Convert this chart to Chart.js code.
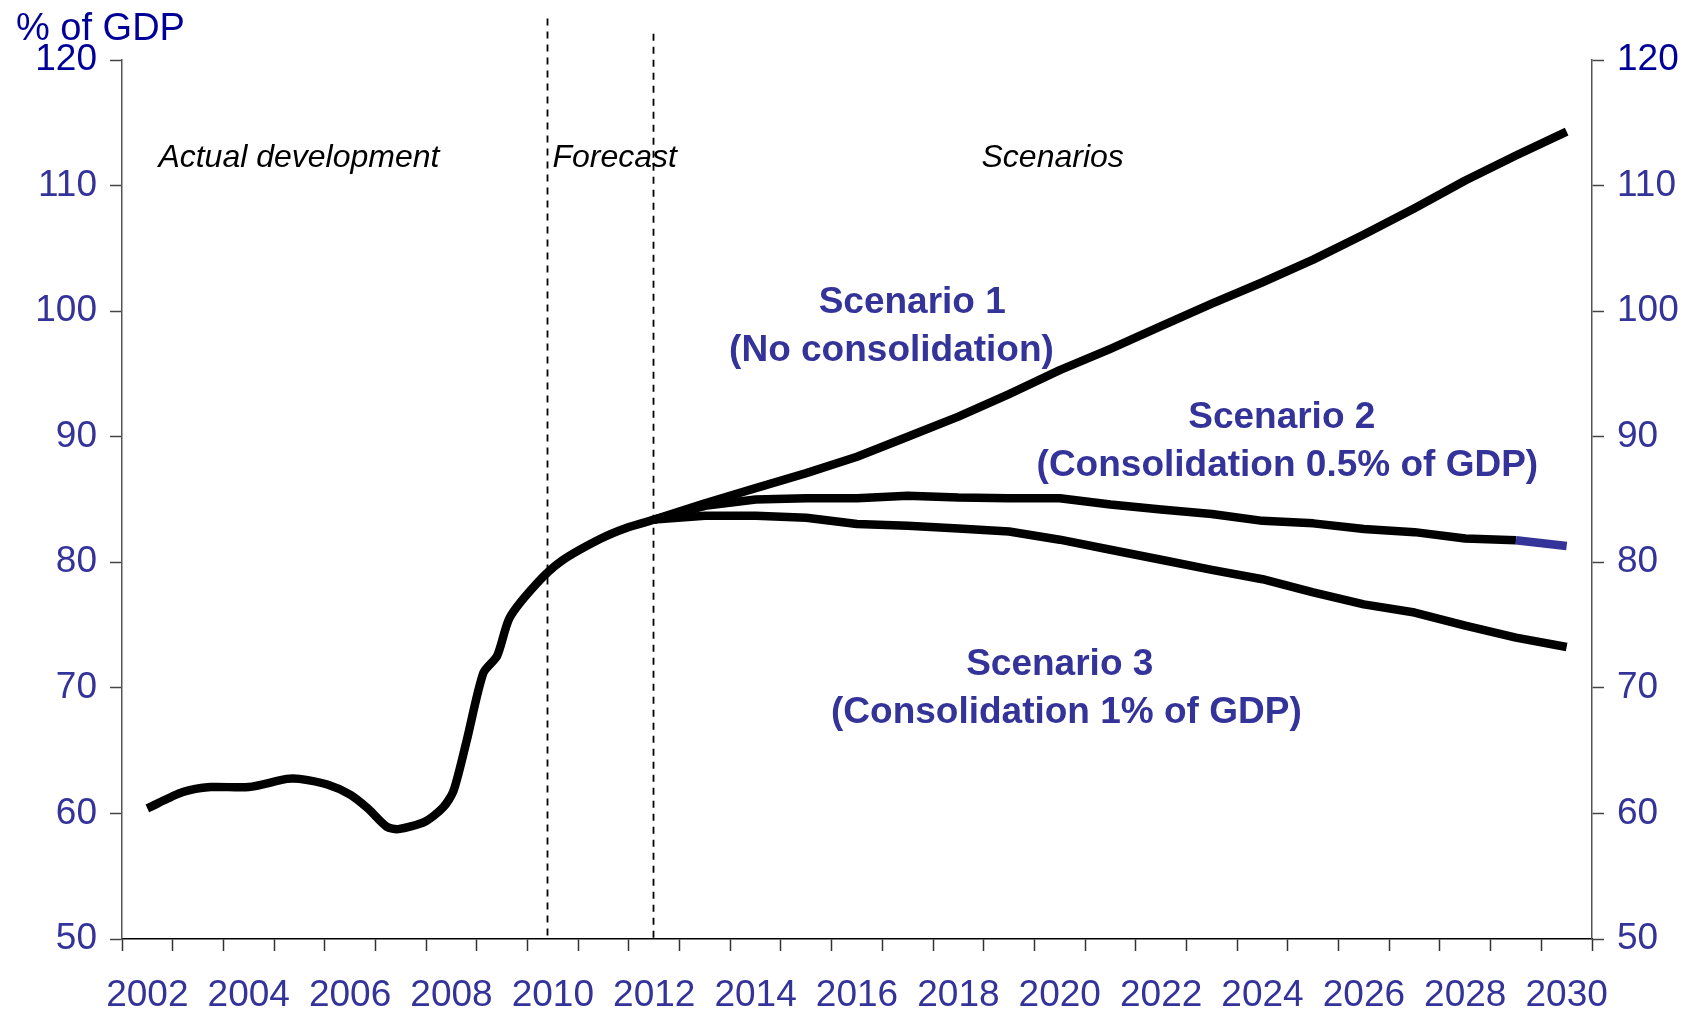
<!DOCTYPE html>
<html lang="en">

<head>
    <meta charset="UTF-8">
    <title>Public debt scenarios</title>
    <script src="https://cdn.jsdelivr.net/npm/chart.js@4.4.1/dist/chart.umd.min.js"></script>
    <style>
        html, body { margin: 0; padding: 0; background: #fff; }
        #wrap { width: 1688px; height: 1011px; }
    </style>
</head>

<body>
    <div id="wrap">
        <canvas id="debtChart" width="1688" height="1011"></canvas>
    </div>

    <script>
        // actual development + forecast (sub-annual points)
        const historyYears = [2002.0, 2002.7, 2003.25, 2004.0, 2004.75, 2005.0, 2005.55, 2006.0, 2006.35, 2006.72,
            2006.95, 2007.48, 2007.84, 2008.04, 2008.3, 2008.63, 2008.9, 2009.15, 2009.68, 2010.17, 2010.93, 2011.46, 2012.0];
        const historyDebt = [60.4, 61.7, 62.1, 62.1, 62.75, 62.75, 62.3, 61.5, 60.4, 58.95,
            58.75, 59.35, 60.5, 61.8, 65.8, 71.2, 72.55, 75.6, 78.3, 80.1, 81.85, 82.75, 83.4];

        // scenarios, annual
        const scenarioYears = [2012, 2013, 2014, 2015, 2016, 2017, 2018, 2019, 2020, 2021,
            2022, 2023, 2024, 2025, 2026, 2027, 2028, 2029, 2030];
        const scenario1 = [83.4, 84.7, 85.9, 87.1, 88.4, 90.0, 91.6, 93.4, 95.3, 97.0,
            98.8, 100.6, 102.3, 104.1, 106.1, 108.2, 110.4, 112.4, 114.3];
        const scenario2 = [83.4, 84.5, 85.0, 85.1, 85.1, 85.3, 85.15, 85.1, 85.1, 84.6,
            84.2, 83.85, 83.3, 83.1, 82.65, 82.4, 81.9, 81.75, 81.3];
        const scenario3 = [83.4, 83.7, 83.7, 83.55, 83.05, 82.9, 82.7, 82.45, 81.8, 81.0,
            80.2, 79.4, 78.65, 77.6, 76.65, 76.0, 74.95, 74.0, 73.25];

        const yearLabels = [2002, 2004, 2006, 2008, 2010, 2012, 2014, 2016, 2018, 2020, 2022, 2024, 2026, 2028, 2030];
        const valueTicks = [50, 60, 70, 80, 90, 100, 110, 120];
        const dividers = [2009.89, 2011.97];
        const dividerTops = [123.3, 122.1];

        const navy = '#333399';
        const font = '"Liberation Sans", Arial, sans-serif';

        const toPoints = (xs, ys) => xs.map((x, i) => ({ x: x, y: ys[i] }));

        // boundary ticks between years, labels in the middle (like a category axis)
        function yearTicks(scale) {
            const ticks = [];
            for (let v = 2001.5; v <= 2030.5; v += 0.5) ticks.push({ value: v });
            scale.ticks = ticks;
        }

        const notes = [
            { text: 'Actual development', x: 2004.99, y: 112.2, font: 'italic 32px ' + font, color: '#000' },
            { text: 'Forecast', x: 2011.22, y: 112.2, font: 'italic 32px ' + font, color: '#000' },
            { text: 'Scenarios', x: 2019.86, y: 112.2, font: 'italic 32px ' + font, color: '#000' },
            { text: 'Scenario 1', x: 2017.09, y: 100.65, font: 'bold 37px ' + font, color: navy },
            { text: '(No consolidation)', x: 2016.68, y: 96.85, font: 'bold 37px ' + font, color: navy },
            { text: 'Scenario 2', x: 2024.38, y: 91.5, font: 'bold 37px ' + font, color: navy },
            { text: '(Consolidation 0.5% of GDP)', x: 2024.49, y: 87.65, font: 'bold 37px ' + font, color: navy },
            { text: 'Scenario 3', x: 2020.0, y: 71.85, font: 'bold 37px ' + font, color: navy },
            { text: '(Consolidation 1% of GDP)', x: 2020.13, y: 68.0, font: 'bold 37px ' + font, color: navy }
        ];

        const decorations = {
            id: 'decorations',
            beforeDatasetsDraw(chart) {
                const { ctx, scales: { x, y } } = chart;
                ctx.save();
                ctx.strokeStyle = '#000';
                ctx.lineWidth = 1.8;
                ctx.setLineDash([7, 6]);
                dividers.forEach((d, i) => {
                    const px = Math.round(x.getPixelForValue(d)) + 0.5;
                    ctx.beginPath();
                    ctx.moveTo(px, y.getPixelForValue(dividerTops[i]));
                    ctx.lineTo(px, y.getPixelForValue(50));
                    ctx.stroke();
                });
                ctx.restore();
            },
            afterDraw(chart) {
                const { ctx, chartArea, scales: { x, y } } = chart;
                ctx.save();
                ctx.textAlign = 'center';
                ctx.textBaseline = 'middle';
                notes.forEach(n => {
                    ctx.font = n.font;
                    ctx.fillStyle = n.color;
                    ctx.fillText(n.text, x.getPixelForValue(n.x), y.getPixelForValue(n.y));
                });
                // unit label above the left axis
                ctx.textAlign = 'left';
                ctx.textBaseline = 'alphabetic';
                ctx.font = '38px ' + font;
                ctx.fillStyle = '#000099';
                ctx.fillText('% of GDP', chartArea.left - 106, chartArea.top - 20);
                ctx.restore();
            }
        };

        const lineStyle = {
            borderColor: '#000',
            borderWidth: 8.5,
            pointRadius: 0,
            borderJoinStyle: 'round',
            fill: false
        };

        const yAxis = (position, width) => ({
            type: 'linear',
            position: position,
            min: 50,
            max: 120,
            afterBuildTicks: s => { s.ticks = valueTicks.map(v => ({ value: v })); },
            afterFit: s => { s.width = width; },
            border: { display: true, color: '#555', width: 1.5 },
            grid: { drawOnChartArea: false, tickLength: 12, tickColor: '#444', tickWidth: 1.5 },
            ticks: {
                padding: 13,
                font: { family: font, size: 37 },
                color: c => c.tick.value === 120 ? '#000099' : navy
            }
        });

        const config = {
            type: 'line',
            data: {
                datasets: [
                    { ...lineStyle, label: 'Actual', data: toPoints(historyYears, historyDebt), tension: 0.25 },
                    { ...lineStyle, label: 'Scenario 1', data: toPoints(scenarioYears, scenario1), tension: 0 },
                    {
                        ...lineStyle, label: 'Scenario 2', data: toPoints(scenarioYears, scenario2), tension: 0,
                        segment: { borderColor: c => c.p1DataIndex === scenarioYears.length - 1 ? navy : '#000' }
                    },
                    { ...lineStyle, label: 'Scenario 3', data: toPoints(scenarioYears, scenario3), tension: 0 }
                ]
            },
            options: {
                responsive: false,
                animation: false,
                layout: { padding: { top: 60, left: 0, right: 0, bottom: 0 } },
                plugins: { legend: { display: false }, tooltip: { enabled: false } },
                scales: {
                    x: {
                        type: 'linear',
                        min: 2001.5,
                        max: 2030.5,
                        afterBuildTicks: yearTicks,
                        afterFit: s => { s.height = 72; },
                        border: { display: true, color: '#000', width: 1.5 },
                        grid: {
                            drawOnChartArea: false,
                            tickLength: 12,
                            tickWidth: 1.5,
                            tickColor: c => (c.tick && c.tick.value % 1 !== 0) ? '#333' : 'rgba(0,0,0,0)'
                        },
                        ticks: {
                            autoSkip: false,
                            maxRotation: 0,
                            padding: 23,
                            font: { family: font, size: 37 },
                            color: navy,
                            callback: v => yearLabels.includes(v) ? String(v) : ''
                        }
                    },
                    y: yAxis('left', 122),
                    y2: yAxis('right', 96)
                }
            },
            plugins: [decorations]
        };

        new Chart(document.getElementById('debtChart').getContext('2d'), config);
    </script>
</body>

</html>
